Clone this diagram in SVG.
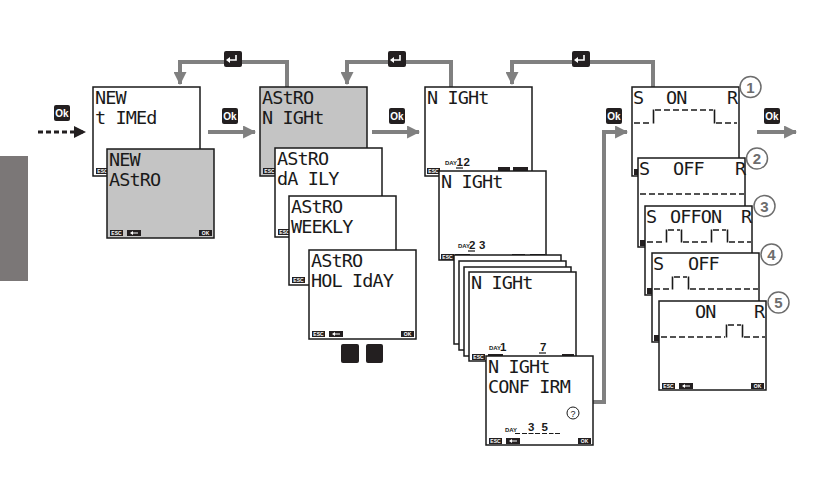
<svg xmlns="http://www.w3.org/2000/svg" width="822" height="482" viewBox="0 0 822 482">
<style>
.scr{fill:#fff;stroke:#1a1a1a;stroke-width:1.5}
.gry{fill:#c4c4c4}
.lcd{font-family:"DejaVu Sans Mono",monospace;font-size:18.5px;letter-spacing:-0.9px;fill:#1a1a1a}
.kb{fill:#231f20}
.kt{font-family:"Liberation Sans",Arial,sans-serif;font-size:5px;font-weight:bold;fill:#fff;text-anchor:middle}
.conn{fill:none;stroke:#808080;stroke-width:4}
.dot{fill:none;stroke:#231f20;stroke-width:3;stroke-dasharray:5 3}
.okt{font-family:"Liberation Sans",Arial,sans-serif;font-size:10px;font-weight:bold;fill:#fff;text-anchor:middle}
.day{font-family:"Liberation Sans",Arial,sans-serif;font-size:6px;font-weight:bold;fill:#1a1a1a}
.dig{font-family:"Liberation Sans",Arial,sans-serif;font-size:11.5px;font-weight:bold;fill:#1a1a1a}
.ul{stroke:#1a1a1a;stroke-width:1.2}
.wh{fill:none;stroke:#1a1a1a;stroke-width:1.6;stroke-dasharray:6 3}
.wv{fill:none;stroke:#1a1a1a;stroke-width:1.6}
.num{fill:#fff;stroke:#6d6d6d;stroke-width:1.5}
.numt{font-family:"Liberation Sans",Arial,sans-serif;font-size:15px;font-weight:bold;fill:#6d6d6d;text-anchor:middle}
.arw{fill:#fff}
.ent{fill:none;stroke:#fff;stroke-width:1.6}
</style>
<defs>
<marker id="ag" markerUnits="userSpaceOnUse" markerWidth="13" markerHeight="13" viewBox="0 0 12 12" refX="11" refY="6" orient="auto"><path d="M0,0 L12,6 L0,12 z" fill="#808080"/></marker>
<marker id="ab" markerUnits="userSpaceOnUse" markerWidth="12" markerHeight="12" viewBox="0 0 12 12" refX="11" refY="6" orient="auto"><path d="M0,0 L12,6 L0,12 z" fill="#231f20"/></marker>
</defs>
<rect x="0" y="156" width="28" height="125" fill="#7b7777"/>

<g id="connectors">
<path class="dot" d="M38,132 H85" marker-end="url(#ab)"/>
<path class="conn" d="M208,132 H255" marker-end="url(#ag)"/>
<path class="conn" d="M372,132 H419" marker-end="url(#ag)"/>
<path class="conn" d="M593,402 H604 V132 H627" marker-end="url(#ag)"/>
<path class="conn" d="M757,132 H796" marker-end="url(#ag)"/>
<path class="conn" d="M287,87 V62 H180 V84" marker-end="url(#ag)"/>
<path class="conn" d="M451,87 V62 H347 V84" marker-end="url(#ag)"/>
<path class="conn" d="M653,87 V62 H512 V84" marker-end="url(#ag)"/>
<g id="ok1"><rect class="kb" x="54" y="105" width="16" height="16" rx="2"/><text class="okt" x="62" y="117">Ok</text></g>
<g id="ok2"><rect class="kb" x="222" y="108" width="16" height="16" rx="2"/><text class="okt" x="230" y="120">Ok</text></g>
<g id="ok3"><rect class="kb" x="389" y="108" width="16" height="16" rx="2"/><text class="okt" x="397" y="120">Ok</text></g>
<g id="ok4"><rect class="kb" x="606" y="108" width="16" height="16" rx="2"/><text class="okt" x="614" y="120">Ok</text></g>
<g id="ok5"><rect class="kb" x="764" y="108" width="16" height="16" rx="2"/><text class="okt" x="772" y="120">Ok</text></g>
<g id="ret1"><rect class="kb" x="224" y="51" width="18" height="16" rx="2"/><path class="ent" d="M236,55 V60 H229"/><path class="arw" d="M226,60 L230,57 L230,63 z"/></g>
<g id="ret2"><rect class="kb" x="388" y="51" width="18" height="16" rx="2"/><path class="ent" d="M400,55 V60 H393"/><path class="arw" d="M390,60 L394,57 L394,63 z"/></g>
<g id="ret3"><rect class="kb" x="572" y="51" width="18" height="16" rx="2"/><path class="ent" d="M584,55 V60 H577"/><path class="arw" d="M574,60 L578,57 L578,63 z"/></g>
</g>

<g id="s1"><rect class="scr" x="93" y="87" width="107" height="89"/>
<text class="lcd" x="95" y="104">NEW</text><text class="lcd" x="95" y="124">t IMEd</text>
<rect class="kb" x="96" y="168" width="13" height="6"/><text class="kt" x="102.5" y="173">ESC</text></g>

<g id="s2"><rect class="scr gry" x="107" y="149" width="107" height="89"/>
<text class="lcd" x="109" y="166">NEW</text><text class="lcd" x="109" y="186">AStRO</text>
<rect class="kb" x="110" y="230" width="13" height="6"/><text class="kt" x="116.5" y="235">ESC</text>
<rect class="kb" x="127" y="230" width="14" height="6"/><path class="arw" d="M130,233 L133,231 L133,235 z M133,232.4 H138 V233.6 H133 z"/>
<rect class="kb" x="199" y="230" width="13" height="6"/><text class="kt" x="205.5" y="235">OK</text></g>

<g id="s3"><rect class="scr gry" x="260" y="87" width="107" height="89"/>
<text class="lcd" x="262" y="104">AStRO</text><text class="lcd" x="262" y="124">N IGHt</text>
<rect class="kb" x="263" y="168" width="13" height="6"/><text class="kt" x="269.5" y="173">ESC</text></g>

<g id="s4"><rect class="scr" x="275" y="148" width="107" height="89"/>
<text class="lcd" x="277" y="165">AStRO</text><text class="lcd" x="277" y="185">dA ILY</text>
<rect class="kb" x="278" y="229" width="13" height="6"/><text class="kt" x="284.5" y="234">ESC</text></g>

<g id="s5"><rect class="scr" x="289" y="196" width="107" height="89"/>
<text class="lcd" x="291" y="213">AStRO</text><text class="lcd" x="291" y="233">WEEKLY</text>
<rect class="kb" x="292" y="277" width="13" height="6"/><text class="kt" x="298.5" y="282">ESC</text></g>

<g id="s6"><rect class="scr" x="309" y="250" width="107" height="89"/>
<text class="lcd" x="311" y="267">AStRO</text><text class="lcd" x="311" y="287">HOL IdAY</text>
<rect class="kb" x="312" y="331" width="13" height="6"/><text class="kt" x="318.5" y="336">ESC</text>
<rect class="kb" x="329" y="331" width="14" height="6"/><path class="arw" d="M332,334 L335,332 L335,336 z M335,333.4 H340 V334.6 H335 z"/>
<rect class="kb" x="401" y="331" width="13" height="6"/><text class="kt" x="407.5" y="336">OK</text></g>

<g id="btns"><rect class="kb" x="341" y="344" width="18" height="19" rx="2"/><rect class="kb" x="366" y="344" width="17" height="19" rx="2"/></g>

<g id="s7"><rect class="scr" x="425" y="87" width="107" height="89"/>
<text class="lcd" x="427" y="104">N IGHt</text>
<text class="day" x="445" y="165">DAY</text><text class="dig" x="456.5" y="166">1</text><text class="dig" x="463.5" y="166">2</text>
<line class="ul" x1="456" y1="168" x2="463" y2="168"/>
<rect class="kb" x="427" y="168" width="13" height="6"/><text class="kt" x="433.5" y="173">ESC</text>
<rect class="kb" x="498" y="167" width="12" height="6"/><rect class="kb" x="513" y="167" width="15" height="6"/></g>

<g id="s8"><rect class="scr" x="439" y="171" width="107" height="89"/>
<text class="lcd" x="441" y="188">N IGHt</text>
<text class="day" x="458" y="248">DAY</text><text class="dig" x="469" y="249">2</text><text class="dig" x="479" y="249">3</text>
<line class="ul" x1="468" y1="251" x2="475" y2="251"/>
<rect class="kb" x="441" y="254" width="13" height="6"/><text class="kt" x="447.5" y="259">ESC</text>
<rect class="kb" x="455" y="254" width="15" height="6"/>
<rect class="kb" x="512" y="254" width="13" height="6"/><rect class="kb" x="530" y="254" width="15" height="6"/></g>

<g id="s10a"><rect class="scr" x="454" y="255" width="107" height="89"/></g>
<g id="s10b"><rect class="scr" x="459" y="261" width="107" height="89"/></g>
<g id="s10c"><rect class="scr" x="464" y="267" width="107" height="89"/></g>
<g id="s10"><rect class="scr" x="469" y="272" width="107" height="89"/>
<text class="lcd" x="471" y="289">N IGHt</text>
<text class="day" x="489" y="350">DAY</text><text class="dig" x="500" y="351">1</text><text class="dig" x="540" y="351">7</text>
<line class="ul" x1="539" y1="353" x2="546" y2="353"/>
<rect class="kb" x="472" y="354" width="13" height="6"/><text class="kt" x="478.5" y="359">ESC</text>
<rect class="kb" x="488" y="354" width="15" height="6"/>
<rect class="kb" x="562" y="354" width="12" height="6"/></g>

<g id="s11"><rect class="scr" x="486" y="356" width="107" height="89"/>
<text class="lcd" x="488" y="373">N IGHt</text><text class="lcd" x="488" y="393">CONF IRM</text>
<circle cx="573" cy="413" r="6" fill="none" stroke="#1a1a1a" stroke-width="1"/><text class="dig" x="573" y="417" text-anchor="middle" style="font-size:9px;font-weight:normal">?</text>
<text class="day" x="505" y="432">DAY</text>
<text class="dig" x="528" y="431">3</text><text class="dig" x="541.5" y="431">5</text>
<path class="ul" d="M515,433.5 H520 M522,433.5 H527 M528.5,433.5 H533.5 M535,433.5 H540 M542,433.5 H547 M549,433.5 H553.5 M555,433.5 H560"/>
<rect class="kb" x="489" y="438" width="13" height="6"/><text class="kt" x="495.5" y="443">ESC</text>
<rect class="kb" x="506" y="438" width="14" height="6"/><path class="arw" d="M509,441 L512,439 L512,443 z M512,440.4 H517 V441.6 H512 z"/>
<rect class="kb" x="578" y="438" width="13" height="6"/><text class="kt" x="584.5" y="443">OK</text></g>

<g id="r1"><rect class="scr" x="632" y="87" width="107" height="89"/>
<text class="lcd" x="633" y="104">S</text><text class="lcd" x="666" y="104">ON</text><text class="lcd" x="727" y="104">R</text>
<path class="wh" d="M634,123 H652 M655,110 H713 M716,123 H737"/><path class="wv" d="M653.5,123.5 V109.5 M714.5,109.5 V123.5"/>
<rect class="kb" x="634" y="169" width="6" height="6"/></g>

<g id="r2"><rect class="scr" x="638" y="158" width="107" height="89"/>
<text class="lcd" x="639" y="175">S</text><text class="lcd" x="673" y="175">OFF</text><text class="lcd" x="735" y="175">R</text>
<path class="wh" d="M640,194 H744"/>
<rect class="kb" x="640" y="240" width="7" height="6"/></g>

<g id="r3"><rect class="scr" x="645" y="206" width="107" height="89"/>
<text class="lcd" x="646" y="223">S</text><text class="lcd" x="670" y="223">OFFON</text><text class="lcd" x="741" y="223">R</text>
<path class="wh" d="M647,242 H665 M668,230 H680 M683,242 H710 M713,230 H726 M729,242 H751"/><path class="wv" d="M666.5,242.5 V229.5 M681.5,229.5 V242.5 M711.5,242.5 V229.5 M727.5,229.5 V242.5"/>
<rect class="kb" x="647" y="288" width="7" height="6"/></g>

<g id="r4"><rect class="scr" x="652" y="253" width="107" height="89"/>
<text class="lcd" x="653" y="270">S</text><text class="lcd" x="688" y="270">OFF</text>
<path class="wh" d="M654,289 H671 M674,277 H687 M690,289 H758"/><path class="wv" d="M672.5,289.5 V276.5 M688.5,276.5 V289.5"/>
<rect class="kb" x="654" y="335" width="7" height="6"/></g>

<g id="r5"><rect class="scr" x="659" y="301" width="107" height="89"/>
<text class="lcd" x="695" y="318">ON</text><text class="lcd" x="754" y="318">R</text>
<path class="wh" d="M661,337 H725 M728,325 H741 M744,337 H765"/><path class="wv" d="M726.5,337.5 V324.5 M742.5,324.5 V337.5"/>
<rect class="kb" x="662" y="383" width="13" height="6"/><text class="kt" x="668.5" y="388">ESC</text>
<rect class="kb" x="679" y="383" width="14" height="6"/><path class="arw" d="M682,386 L685,384 L685,388 z M685,385.4 H690 V386.6 H685 z"/>
<rect class="kb" x="751" y="383" width="13" height="6"/><text class="kt" x="757.5" y="388">OK</text></g>

<g id="n1"><circle class="num" cx="750.5" cy="87" r="10.5"/><text class="numt" x="750.5" y="92.5">1</text></g>
<g id="n2"><circle class="num" cx="757" cy="158.5" r="10.5"/><text class="numt" x="757" y="164">2</text></g>
<g id="n3"><circle class="num" cx="764.5" cy="206" r="10.5"/><text class="numt" x="764.5" y="211.5">3</text></g>
<g id="n4"><circle class="num" cx="771.5" cy="254.5" r="10.5"/><text class="numt" x="771.5" y="260">4</text></g>
<g id="n5"><circle class="num" cx="778.5" cy="302.5" r="10.5"/><text class="numt" x="778.5" y="308">5</text></g>
</svg>
